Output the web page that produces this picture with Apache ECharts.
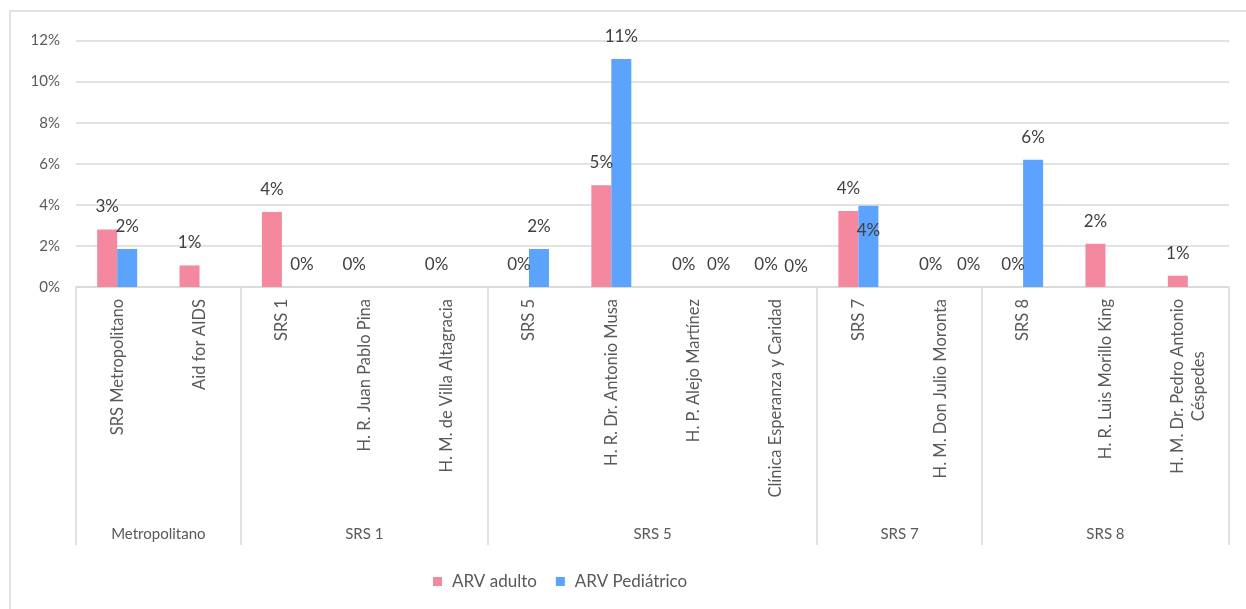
<!DOCTYPE html>
<html>
<head>
<meta charset="utf-8">
<script src="https://cdn.jsdelivr.net/npm/echarts@6/dist/echarts.min.js"></script>
<style>
  html,body{margin:0;padding:0;background:#fff;}
  #chart{width:1246px;height:609px;}
</style>
</head>
<body>
<div id="chart"></div>
<script>
// categorías (nivel 1) y grupos (nivel 2)
var categories = [
  'SRS Metropolitano', 'Aid for AIDS',
  'SRS 1', 'H. R. Juan Pablo Pina', 'H. M. de Villa Altagracia',
  'SRS 5', 'H. R. Dr. Antonio Musa', 'H. P. Alejo Martínez', 'Clínica Esperanza y Caridad',
  'SRS 7', 'H. M. Don Julio Moronta',
  'SRS 8', 'H. R. Luis Morillo King', 'H. M. Dr. Pedro Antonio\nCéspedes'
];
var groupNames = ['Metropolitano', 'SRS 1', 'SRS 5', 'SRS 7', 'SRS 8'];
var groupSizes = [2, 3, 4, 2, 3];

// valores en %
var arvAdulto    = [2.8, 1.05, 3.65, 0, 0, 0, 4.95, 0, 0, 3.7, 0, 0, 2.1, 0.55];
var arvPediatrico = [1.85, null, 0, null, null, 1.85, 11.1, 0, 0, 3.95, 0, 6.2, null, null];
var yTicks = [0, 2, 4, 6, 8, 10, 12];

var PINK = '#f4889e', BLUE = '#5ba3fd';
var FONT = 'Lato';

// limites y centros de grupo sobre un eje 0..14
var bounds = [0], centers = [];
groupSizes.forEach(function (n) {
  var a = bounds[bounds.length - 1];
  bounds.push(a + n);
  centers.push(a + n / 2);
});

// ajustes de etiquetas como en el original (desplazadas a mano)
var blueLabelTweaks = {
  2: {offset: [10, 0]},
  7: {offset: [15, 0]},
  8: {offset: [10, 2]},
  9: {position: 'insideTop', distance: 16},
  10: {offset: [18, 0]}
};

var labelBase = {
  show: true,
  position: 'top',
  distance: 14,
  fontFamily: FONT,
  fontSize: 17,
  color: '#404040',
  formatter: function (p) { return Math.round(p.value) + '%'; }
};

var blueData = arvPediatrico.map(function (v, i) {
  if (blueLabelTweaks[i]) {
    return {value: v, label: blueLabelTweaks[i]};
  }
  return v;
});

var chart = echarts.init(document.getElementById('chart'));
chart.setOption({
  animation: false,
  textStyle: {fontFamily: FONT},
  graphic: [{
    type: 'rect',
    shape: {x: 10, y: 11, width: 1250, height: 610},
    style: {fill: 'none', stroke: '#d9d9d9', lineWidth: 1.5},
    silent: true
  }],
  legend: {
    left: 428,
    top: 568,
    icon: 'rect',
    itemWidth: 9,
    itemHeight: 9,
    itemGap: 19,
    textStyle: {fontFamily: FONT, fontSize: 17, color: '#595959', padding: [0, 0, 0, 5]},
    data: ['ARV adulto', 'ARV Pediátrico']
  },
  grid: {left: 76, right: 17, top: 40.5, bottom: 322},
  xAxis: [{
    type: 'category',
    data: categories,
    axisLine: {lineStyle: {color: '#d9d9d9', width: 1.5}},
    axisTick: {show: false},
    axisLabel: {
      interval: 0,
      rotate: 90,
      margin: 12,
      fontFamily: FONT,
      fontSize: 16.5,
      color: '#595959',
      formatter: function (v) {
        return v.split('\n').map(function (s) { return '{c|' + s + '}'; }).join('\n');
      },
      rich: {c: {align: 'center', fontFamily: FONT, fontSize: 16.5, color: '#595959', lineHeight: 21}}
    }
  }, {
    type: 'value',
    min: 0,
    max: 14,
    position: 'bottom',
    splitLine: {show: false},
    axisLine: {show: false},
    axisTick: {
      show: true,
      customValues: bounds,
      length: 258,
      lineStyle: {color: '#d9d9d9', width: 1.5}
    },
    axisLabel: {
      show: true,
      customValues: centers,
      margin: 240,
      fontFamily: FONT,
      fontSize: 15,
      color: '#595959',
      formatter: function (v) {
        return groupNames[centers.indexOf(v)] || '';
      }
    }
  }],
  yAxis: {
    type: 'value',
    min: 0,
    max: 12,
    interval: 2,
    axisLine: {show: false},
    axisTick: {show: false},
    splitLine: {lineStyle: {color: '#d9d9d9', width: 1.5}},
    axisLabel: {
      margin: 16,
      fontFamily: FONT,
      fontSize: 15,
      color: '#595959',
      formatter: function (v) { return yTicks.indexOf(v) >= 0 ? v + '%' : ''; }
    }
  },
  series: [{
    name: 'ARV adulto',
    type: 'bar',
    data: arvAdulto,
    barWidth: 20,
    barGap: '0%',
    itemStyle: {color: PINK},
    label: labelBase
  }, {
    name: 'ARV Pediátrico',
    type: 'bar',
    data: blueData,
    barWidth: 20,
    barGap: '0%',
    itemStyle: {color: BLUE},
    label: labelBase
  }]
});
</script>
</body>
</html>
